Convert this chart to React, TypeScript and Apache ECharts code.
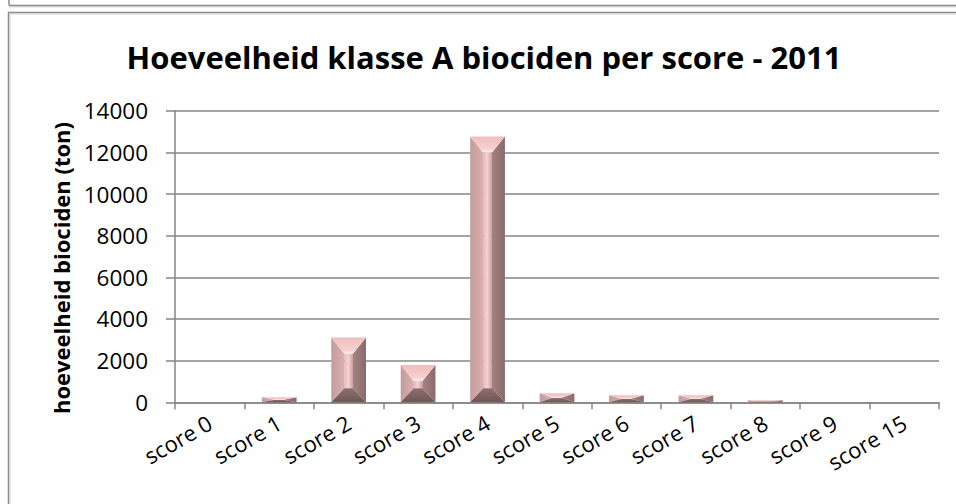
import React, { useEffect, useRef } from "react";
import * as echarts from "echarts";

const categories = ["score 0", "score 1", "score 2", "score 3", "score 4", "score 5", "score 6", "score 7", "score 8", "score 9", "score 15"];
const values = [0, 240, 3110, 1790, 12760, 430, 335, 335, 95, 0, 0];
const yTicks = { min: 0, max: 14000, interval: 2000 };
const titleText = "Hoeveelheid klasse A biociden per score - 2011";
const yAxisTitle = "hoeveelheid biociden (ton)";

const FONT = "'Open Sans', 'Noto Sans', sans-serif";

function lg(x1: number, y1: number, x2: number, y2: number, stops: [number, string][]) {
  return new echarts.graphic.LinearGradient(x1, y1, x2, y2, stops.map(([offset, color]) => ({ offset, color })));
}

const renderBevelBar = (params: any, api: any) => {
  const idx = api.value(0);
  const v = api.value(1);
  if (!v) return null;
  const pTop = api.coord([idx, v]);
  const pBase = api.coord([idx, 0]);
  const band = api.size([1, 0])[0];
  const w = band * 0.5;
  const x0 = pTop[0] - w / 2;
  const x1 = x0 + w;
  const y0 = pTop[1];
  const y1 = pBase[1];
  const h = y1 - y0;
  if (h <= 0) return null;
  const bx = Math.min(13, w / 2 - 4);
  const bt = Math.min(16, h / 2);
  const bb = Math.min(14, h / 2);
  const cx0 = x0 + bx;
  const cx1 = x1 - bx;
  return {
    type: "group",
    children: [
      {
        type: "rect",
        shape: { x: cx0, y: y0 + bt, width: cx1 - cx0, height: Math.max(0, h - bt - bb) },
        style: { fill: lg(0, 0, 1, 0, [[0, "#e4b6b6"], [0.45, "#fad2d2"], [1, "#c6a0a0"]]) },
      },
      {
        type: "polygon",
        shape: { points: [[x0, y0], [cx0, y0 + bt], [cx0, y1 - bb], [x0, y1]] },
        style: { fill: lg(0, 0, 1, 0, [[0, "#c49c9c"], [1, "#dab0b0"]]) },
      },
      {
        type: "polygon",
        shape: { points: [[x1, y0], [cx1, y0 + bt], [cx1, y1 - bb], [x1, y1]] },
        style: { fill: lg(0, 0, 1, 0, [[0, "#a48282"], [1, "#8a6a6a"]]) },
      },
      {
        type: "polygon",
        shape: { points: [[x0, y1], [x1, y1], [cx1, y1 - bb], [cx0, y1 - bb]] },
        style: { fill: lg(0, 1, 0, 0, [[0, "#705555"], [1, "#8e6f6f"]]) },
      },
      {
        type: "polygon",
        shape: { points: [[x0, y0], [x1, y0], [cx1, y0 + bt], [cx0, y0 + bt]] },
        style: { fill: lg(0, 0, 0, 1, [[0, "#efbebe"], [0.75, "#f7cfcf"], [1, "#fdeeee"]]) },
      },
    ],
  };
};

export default function App() {
  const ref = useRef<HTMLDivElement>(null);
  useEffect(() => {
    document.body.style.margin = "0";
    const chart = echarts.init(ref.current!, null, { renderer: "svg" });
    chart.setOption({
      animation: false,
      backgroundColor: "#ffffff",
      title: {
        text: titleText,
        left: 484,
        top: 41,
        padding: 0,
        textAlign: "center",
        textStyle: { fontFamily: FONT, fontWeight: "bold", fontSize: 31, color: "#000" },
      },
      graphic: [
        { type: "line", shape: { x1: 9, y1: 0, x2: 9, y2: 5.5 }, style: { stroke: "#8a8a8a", lineWidth: 1.5 } },
        { type: "line", shape: { x1: 9, y1: 5.5, x2: 960, y2: 5.5 }, style: { stroke: "#8a8a8a", lineWidth: 1.5 } },
        { type: "line", shape: { x1: 9, y1: 6.8, x2: 960, y2: 6.8 }, style: { stroke: "#c8c8c8", lineWidth: 1 } },
        { type: "rect", shape: { x: 8.5, y: 12.5, width: 1000, height: 600 }, style: { fill: "none", stroke: "#8a8a8a", lineWidth: 1.5 } },
        { type: "rect", shape: { x: 10, y: 14, width: 1000, height: 600 }, style: { fill: "none", stroke: "#d0d0d0", lineWidth: 1 } },
        {
          type: "text",
          x: 61,
          y: 268,
          rotation: Math.PI / 2,
          style: {
            text: yAxisTitle,
            textAlign: "center",
            textVerticalAlign: "middle",
            verticalAlign: "middle",
            fontFamily: FONT,
            fontWeight: "bold",
            fontSize: 22,
            fill: "#000",
          },
        },
      ],
      grid: { left: 175, right: 17, top: 110.7, bottom: 101.7 },
      xAxis: {
        type: "category",
        data: categories,
        boundaryGap: true,
        axisLine: { lineStyle: { color: "#868686", width: 1.5 } },
        axisTick: { show: true, length: 7, alignWithLabel: false, lineStyle: { color: "#868686", width: 1.5 } },
        axisLabel: { interval: 0, rotate: 30, margin: 18, fontFamily: FONT, fontSize: 22, color: "#000" },
      },
      yAxis: {
        type: "value",
        min: yTicks.min,
        max: yTicks.max,
        interval: yTicks.interval,
        axisLine: { show: true, lineStyle: { color: "#868686", width: 1.5 } },
        axisTick: { show: true, length: 9, lineStyle: { color: "#868686", width: 1.5 } },
        axisLabel: { margin: 27, fontFamily: FONT, fontSize: 22.5, color: "#000", formatter: (v: number) => String(v) },
        splitLine: { show: true, lineStyle: { color: "#868686", width: 1.5 } },
      },
      series: [
        {
          type: "custom",
          renderItem: renderBevelBar,
          encode: { x: 0, y: 1 },
          data: values.map((v, i) => [i, v]),
        },
      ],
    });
    return () => chart.dispose();
  }, []);
  return <div ref={ref} style={{ position: "absolute", left: 0, top: 0, width: 956, height: 504 }} />;
}
